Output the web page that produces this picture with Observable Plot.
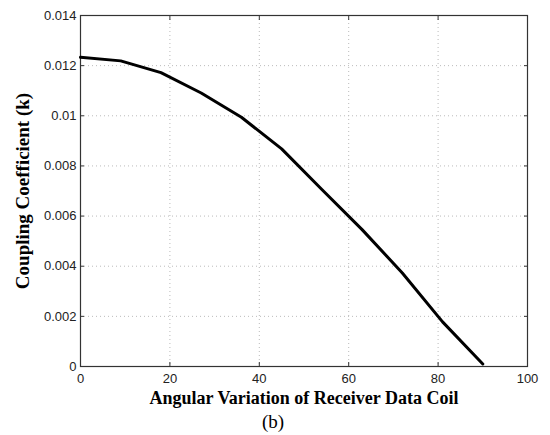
<!DOCTYPE html>
<html>
<head>
<meta charset="utf-8">
<script src="https://cdn.jsdelivr.net/npm/d3@7"></script>
<script src="https://cdn.jsdelivr.net/npm/@observablehq/plot@0.6"></script>
<style>
  body { margin: 0; background: #fff; }
  #wrap { width: 550px; height: 435px; background: #fff; }
  #cap { width: 550px; height: 22px; line-height: 20px; text-align: center; padding-right: 4px; box-sizing: border-box;
         font-family: "Liberation Serif", "DejaVu Serif", serif; font-size: 19px; color: #000; }
</style>
</head>
<body>
<div id="wrap"></div>
<script>
const angles = [0, 9, 18, 27, 36, 45, 54, 63, 72, 81, 90];
const kValues = [0.01233, 0.01219, 0.01172, 0.01091, 0.00994, 0.00868, 0.00706, 0.00546, 0.00373, 0.00178, 0.00010];
const xTicks = [0, 20, 40, 60, 80, 100];
const yTicks = [0, 0.002, 0.004, 0.006, 0.008, 0.01, 0.012, 0.014];
const xLabel = "Angular Variation of Receiver Data Coil";
const yLabel = "Coupling Coefficient (k)";
const caption = "(b)";

const data = angles.map((a, i) => ({angle: a, k: kValues[i]}));
const fmtY = d => String(+d.toFixed(3));

const plot = Plot.plot({
  width: 550,
  height: 412,
  marginLeft: 80,
  marginRight: 23,
  marginTop: 15,
  marginBottom: 46,
  style: {fontFamily: "'Liberation Sans', Arial, sans-serif", fontSize: "13px", color: "#000", background: "#fff"},
  x: {domain: [0, 100]},
  y: {domain: [0, 0.014]},
  marks: [
    Plot.gridX(xTicks, {stroke: "#bbb", strokeOpacity: 1, strokeDasharray: "1,3"}),
    Plot.gridY(yTicks, {stroke: "#bbb", strokeOpacity: 1, strokeDasharray: "1,3"}),
    Plot.axisX({anchor: "bottom", ticks: xTicks, tickSize: -4, tickPadding: 11, stroke: "#333",
      fontSize: 13, fill: "#222", label: null}),
    Plot.axisX({anchor: "top", ticks: xTicks, tickSize: -4, tickFormat: () => "", stroke: "#333", label: null}),
    Plot.axisY({anchor: "left", ticks: yTicks, tickSize: -4, tickPadding: 8, tickFormat: fmtY, stroke: "#333",
      fontSize: 13, fill: "#222", letterSpacing: 1, label: null}),
    Plot.axisY({anchor: "right", ticks: yTicks, tickSize: -4, tickFormat: () => "", stroke: "#333", label: null}),
    Plot.frame({stroke: "#333", strokeWidth: 1.2}),
    Plot.line(data, {x: "angle", y: "k", stroke: "#000", strokeWidth: 3}),
    Plot.text([xLabel], {frameAnchor: "bottom", dy: 37, text: d => d, fontFamily: "'Liberation Serif', serif",
      fontWeight: "bold", fontSize: 18, letterSpacing: 1, fill: "#000"}),
    Plot.text([yLabel], {frameAnchor: "left", dx: -58, rotate: -90, textAnchor: "middle", text: d => d,
      fontFamily: "'Liberation Serif', serif", fontWeight: "bold", fontSize: 19, letterSpacing: 1.5, fill: "#000"})
  ]
});
document.getElementById("wrap").appendChild(plot);
const cap = document.createElement("div");
cap.id = "cap";
cap.textContent = caption;
document.getElementById("wrap").appendChild(cap);
</script>
</body>
</html>
